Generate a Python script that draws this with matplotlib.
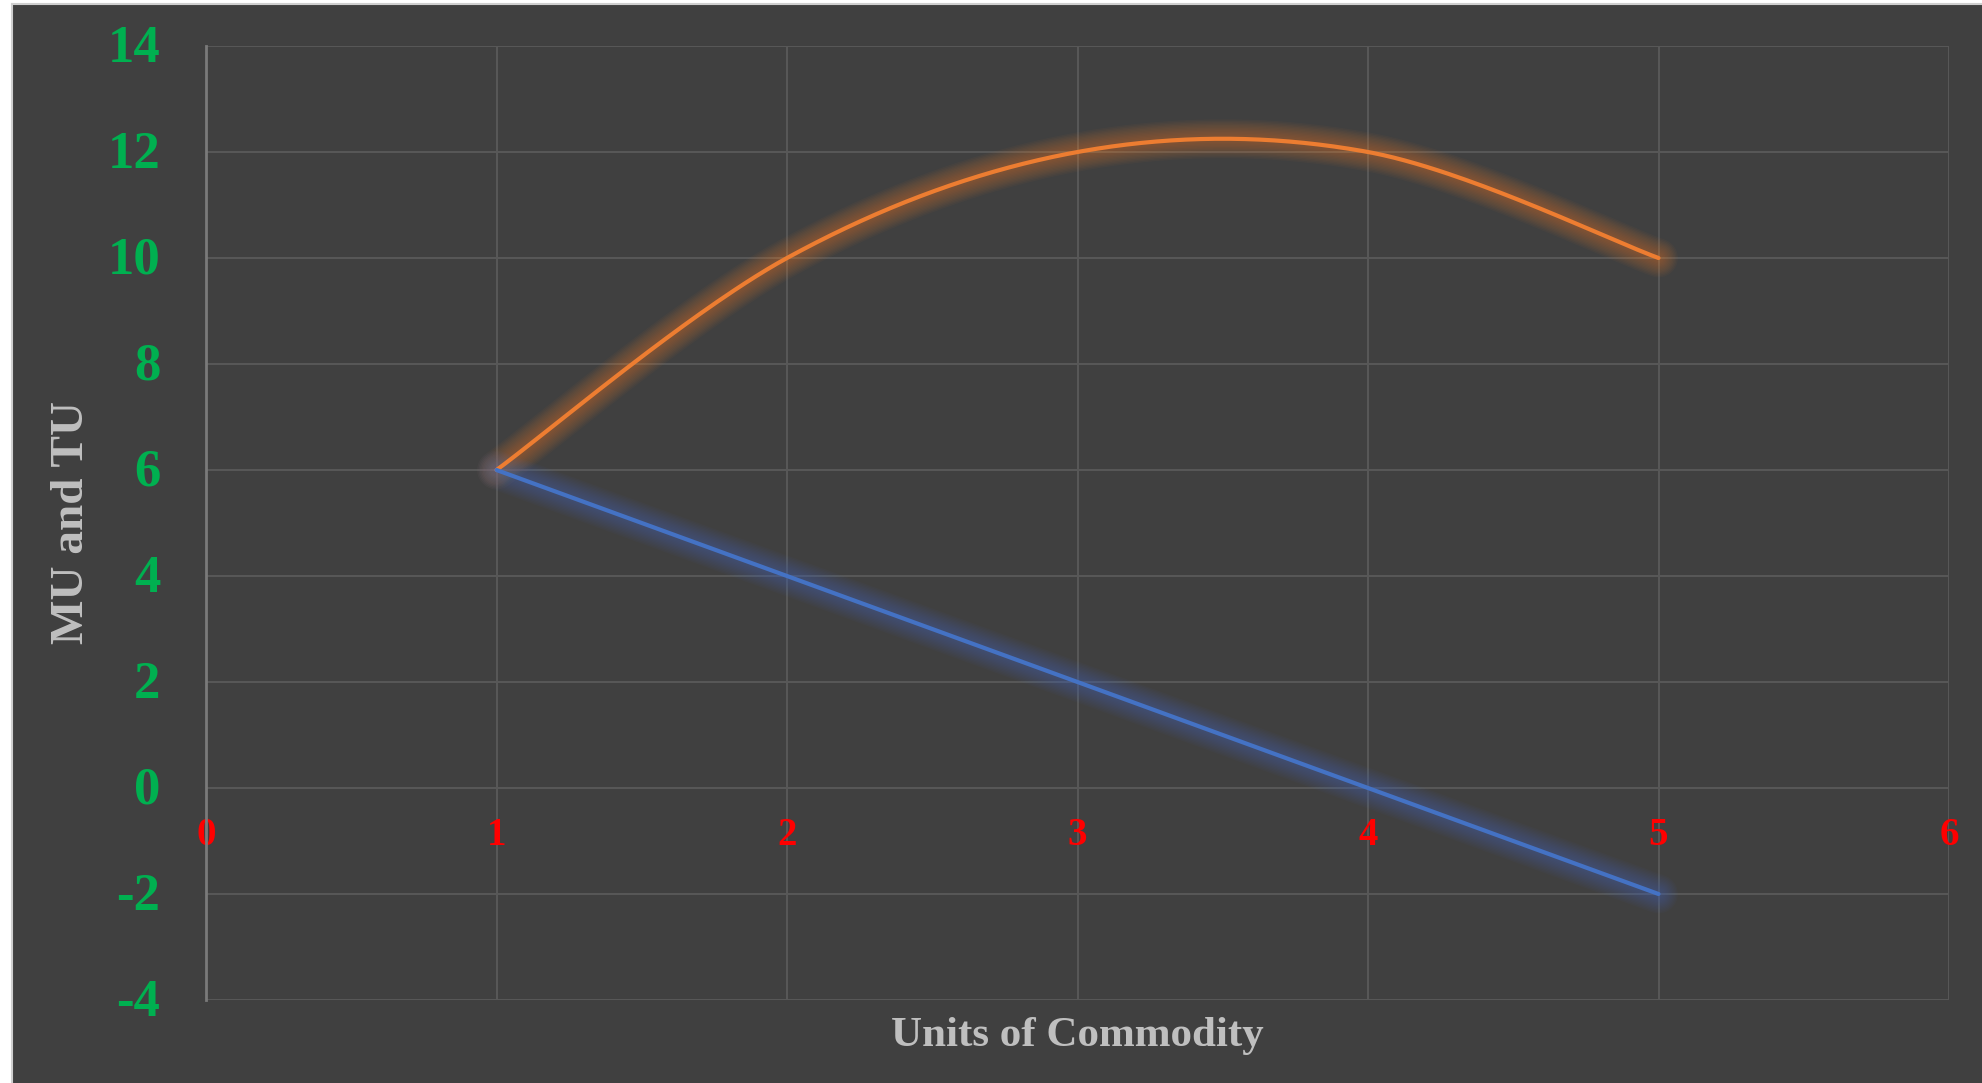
import numpy as np
import matplotlib
matplotlib.use("Agg")
import matplotlib.pyplot as plt
from matplotlib.patches import Rectangle
from matplotlib.transforms import ScaledTranslation

# Units consumed, total utility and marginal utility
units = [1, 2, 3, 4, 5]
total_utility = [6, 10, 12, 12, 10]
marginal_utility = [6, 4, 2, 0, -2]

x_ticks = [0, 1, 2, 3, 4, 5, 6]
y_ticks = [-4, -2, 0, 2, 4, 6, 8, 10, 12, 14]

BG = "#404040"
GRID = "#575757"
ORANGE = "#ED7D31"
BLUE = "#4472C4"
SERIF = ["Liberation Serif", "DejaVu Serif"]


def smooth_curve(xs, ys, steps=60):
    """Catmull-Rom spline through the points (endpoints repeated)."""
    pts = np.column_stack([xs, ys]).astype(float)
    pts = np.vstack([pts[0], pts, pts[-1]])
    out = []
    t = np.linspace(0, 1, steps)
    for i in range(1, len(pts) - 2):
        p0, p1, p2, p3 = pts[i - 1], pts[i], pts[i + 1], pts[i + 2]
        m1 = (p2 - p0) / 2.0
        m2 = (p3 - p1) / 2.0
        h00 = 2 * t**3 - 3 * t**2 + 1
        h10 = t**3 - 2 * t**2 + t
        h01 = -2 * t**3 + 3 * t**2
        h11 = t**3 - t**2
        seg = (h00[:, None] * p1 + h10[:, None] * m1 +
               h01[:, None] * p2 + h11[:, None] * m2)
        out.append(seg if i == 1 else seg[1:])
    seg = np.vstack(out)
    return seg[:, 0], seg[:, 1]


def glow_line(ax, xs, ys, color, lw=3.0):
    for w in np.linspace(28, 6, 12):
        ax.plot(xs, ys, color=color, lw=w, alpha=0.04,
                solid_capstyle="round", solid_joinstyle="round", zorder=3)
    ax.plot(xs, ys, color=color, lw=lw, solid_capstyle="round",
            solid_joinstyle="round", zorder=4)


fig = plt.figure(figsize=(19.82, 10.83), dpi=100, facecolor=BG)
# white margin on the left and top with a thin light frame
fig.patches.append(Rectangle((0, 0), 11 / 1982, 1, transform=fig.transFigure,
                             facecolor="white", edgecolor="none", zorder=0))
fig.patches.append(Rectangle((0, 1 - 3 / 1083), 1, 3 / 1083, transform=fig.transFigure,
                             facecolor="white", edgecolor="none", zorder=0))
fig.add_artist(plt.Line2D([11.5 / 1982, 11.5 / 1982], [0, 1 - 3.5 / 1083],
                          transform=fig.transFigure, color="#cfcfcf", lw=1.5))
fig.add_artist(plt.Line2D([11.5 / 1982, 1], [1 - 3.5 / 1083, 1 - 3.5 / 1083],
                          transform=fig.transFigure, color="#cfcfcf", lw=1.5))

ax = fig.add_axes([206 / 1982, 83 / 1083, (1949 - 206) / 1982, (1000 - 46) / 1083])
ax.set_facecolor(BG)

ax.set_xlim(0, 6)
ax.set_ylim(-4, 14)
ax.set_xticks(x_ticks)
ax.set_yticks(y_ticks)
ax.set_xticklabels([str(v) for v in x_ticks])
ax.set_yticklabels([str(v) for v in y_ticks])

ax.grid(True, color=GRID, linewidth=1.5, zorder=1)
ax.set_axisbelow(True)

for side in ("top", "right"):
    ax.spines[side].set_visible(False)
ax.spines["bottom"].set_position(("data", 0))
ax.spines["bottom"].set_visible(False)
ax.spines["left"].set_color("#7a7a7a")
ax.spines["left"].set_linewidth(2)

ax.tick_params(axis="x", length=0, pad=21, colors="#FF0000")
ax.tick_params(axis="y", length=0, pad=33, colors="#00B050")
for lbl in ax.get_xticklabels():
    lbl.set_fontfamily(SERIF)
    lbl.set_fontweight("bold")
    lbl.set_fontsize(28)
shift_down = ScaledTranslation(0, -3 / 100, fig.dpi_scale_trans)
for lbl in ax.get_yticklabels():
    lbl.set_fontfamily(SERIF)
    lbl.set_fontweight("bold")
    lbl.set_fontsize(38)
    lbl.set_verticalalignment("center")
    lbl.set_transform(lbl.get_transform() + shift_down)

tx, ty = smooth_curve(units, total_utility)
glow_line(ax, tx, ty, ORANGE)
glow_line(ax, units, marginal_utility, BLUE)

fig.text(72 / 1982, 1 - 522 / 1083, "MU and TU", rotation=90,
         ha="center", va="center", color="#BFBFBF", fontsize=34,
         fontweight="bold", family=SERIF)
fig.text(1077 / 1982, 1 - 1036 / 1083, "Units of Commodity",
         ha="center", va="center", color="#BFBFBF", fontsize=31,
         fontweight="bold", family=SERIF)

fig.savefig("out.png", dpi=100, facecolor=fig.get_facecolor())
